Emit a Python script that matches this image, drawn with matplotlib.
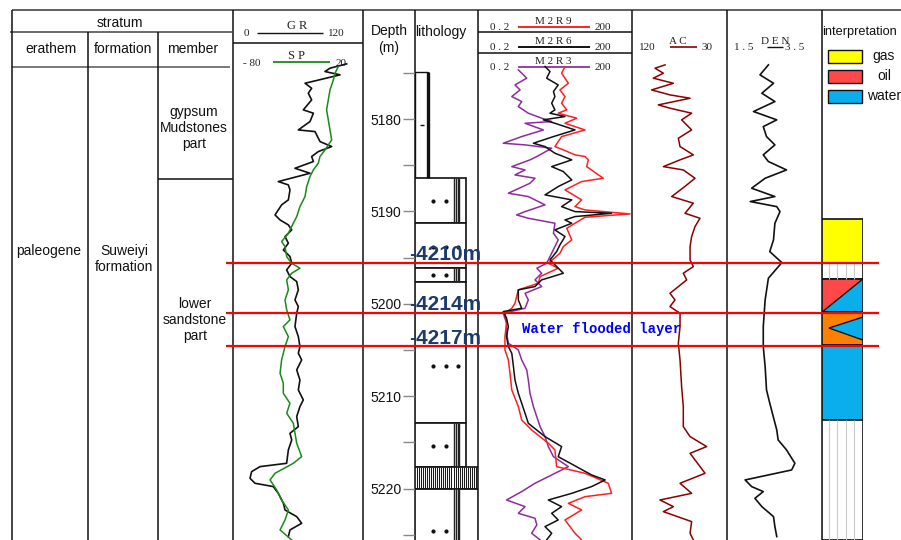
import matplotlib
matplotlib.use("Agg")
import matplotlib.pyplot as plt
from matplotlib.patches import Rectangle, Polygon

plt.rcParams['font.family'] = ['Liberation Sans', 'DejaVu Sans']
plt.rcParams['lines.solid_joinstyle'] = 'round'

# ---------------- data ----------------
DEPTH_TOP, DEPTH_BOT = 5174.37, 5225.56
depth_major = [5180, 5190, 5200, 5210, 5220]
depth_minor = [5175, 5185, 5195, 5205, 5215, 5225]

# (depth m, GR API)
gr = [(5174.03,104.9),(5174.50,89.5),(5174.86,84.9),(5175.22,98.8),(5176.13,66.5),(5176.67,72.6),
      (5177.21,69.5),(5177.93,72.6),(5179.01,64.9),(5179.37,74.2),(5180.27,71.1),(5181.18,60.3),
      (5181.36,75.7),(5182.44,80.3),(5182.98,91.1),(5183.52,78.8),(5184.06,72.6),(5184.60,74.2),
      (5185.33,57.2),(5185.87,71.1),(5186.77,41.8),(5187.13,51.1),(5187.67,52.6),(5188.75,51.1),
      (5189.29,44.9),(5190.38,38.8),(5190.92,43.4),(5191.46,51.1),(5192.00,54.2),(5192.72,48.0),
      (5193.44,51.1),(5194.17,46.5),(5194.89,52.6),(5195.61,54.2),(5196.33,49.5),(5197.05,52.6),
      (5197.59,58.8),(5198.49,60.3),(5199.58,57.2),(5200.30,60.3),(5201.02,58.8),(5202.46,57.2),
      (5203.55,60.3),(5204.63,61.8),(5205.35,60.3),(5206.07,63.4),(5207.15,58.8),(5208.24,61.8),
      (5209.32,60.3),(5210.40,64.9),(5211.12,61.8),(5212.20,58.8),(5213.29,60.3),(5214.01,52.6),
      (5214.73,54.2),(5215.81,51.1),(5217.26,49.5),(5217.62,24.9),(5218.16,17.2),(5218.88,15.7),
      (5219.42,20.3),(5219.78,37.2),(5220.51,41.8),(5221.59,46.5),(5222.31,48.0),(5223.03,58.8),
      (5223.75,63.4),(5224.47,52.6),(5225.19,51.1)]

# (depth m, SP mV)
sp = [(5174.32,1.0),(5175.04,-1.5),(5175.76,-2.8),(5176.85,-5.4),(5177.93,-6.7),(5179.01,-8.0),
      (5180.09,-6.7),(5181.18,-5.4),(5182.26,-4.1),(5183.34,-9.2),(5184.06,-13.1),(5184.78,-14.4),
      (5185.51,-18.2),(5186.23,-20.8),(5187.31,-23.3),(5188.39,-24.6),(5189.48,-28.5),(5190.56,-31.0),
      (5191.64,-34.9),(5192.36,-37.4),(5193.26,-42.6),(5193.80,-40.0),(5194.89,-38.7),(5195.61,-34.9),
      (5196.15,-28.5),(5196.69,-34.9),(5197.41,-38.7),(5198.49,-37.4),(5199.58,-40.0),(5200.66,-38.7),
      (5201.74,-36.2),(5202.46,-41.3),(5203.55,-37.4),(5204.63,-40.0),(5206.07,-42.6),(5207.52,-43.8),
      (5208.60,-41.3),(5209.68,-41.3),(5210.76,-36.2),(5211.84,-38.7),(5212.93,-33.6),(5214.01,-32.3),
      (5215.09,-31.0),(5216.54,-27.2),(5217.26,-33.6),(5218.34,-47.7),(5219.06,-51.5),(5220.14,-46.4),
      (5221.23,-42.6),(5222.31,-37.4),(5223.39,-40.0),(5224.47,-43.8),(5225.55,-34.9)]

# (depth m, ohm.m)
m2r9 = [(5174.32,9.9),(5175.04,8.5),(5176.13,11.5),(5176.85,7.9),(5177.57,9.9),(5178.29,8.5),
        (5179.01,10.7),(5179.37,7.3),(5179.91,16.7),(5180.46,9.9),(5181.18,24.3),(5181.90,8.5),
        (5182.98,6.3),(5183.34,9.2),(5183.88,15.5),(5184.06,24.3),(5184.42,28.2),(5185.15,26.2),
        (5186.41,55.0),(5186.77,20.9),(5187.67,9.9),(5188.75,20.9),(5189.48,15.5),(5189.84,24.3),
        (5190.27,183.0),(5190.63,24.3),(5191.82,10.7),(5193.08,13.4),(5193.80,9.2),(5194.53,7.9),
        (5195.61,4.69),(5196.15,7.3),(5197.05,3.24),(5197.77,3.0),(5198.49,1.22),(5199.94,1.05),
        (5200.48,0.91),(5201.02,0.67),(5202.10,0.72),(5203.55,0.67),(5204.99,0.67),(5206.07,0.78),
        (5207.52,0.84),(5209.32,0.91),(5211.12,1.22),(5212.57,1.42),(5213.65,2.22),(5215.09,4.69),
        (5215.81,6.3),(5217.62,6.8),(5218.34,24.3),(5219.42,69.0),(5220.51,80.0),(5220.87,24.3),
        (5221.59,11.5),(5222.31,20.9),(5223.39,9.9),(5224.83,15.5),(5225.55,20.9)]

m2r6 = [(5174.32,4.04),(5174.86,5.05),(5175.58,4.35),(5176.31,7.3),(5177.03,5.9),(5177.57,6.3),
        (5178.29,5.45),(5179.01,6.3),(5179.37,5.05),(5179.73,9.9),(5180.09,3.75),(5180.46,6.3),
        (5181.18,15.5),(5181.90,5.9),(5182.62,2.4),(5182.98,4.04),(5183.70,6.3),(5184.42,13.4),
        (5185.15,5.45),(5185.69,9.2),(5186.59,13.4),(5187.31,7.3),(5188.21,4.04),(5188.75,13.4),
        (5189.48,8.5),(5190.02,15.5),(5190.20,80.0),(5190.56,15.5),(5190.92,9.9),(5191.28,13.4),
        (5192.00,6.3),(5192.72,9.9),(5193.62,7.9),(5194.35,6.8),(5195.25,5.05),(5196.69,9.2),
        (5197.41,3.48),(5198.13,2.58),(5198.49,1.22),(5199.58,1.22),(5200.48,1.42),(5200.84,0.62),
        (5201.56,0.72),(5202.46,0.78),(5203.55,0.72),(5204.63,0.78),(5205.35,0.91),(5206.79,0.98),
        (5208.24,1.05),(5209.68,1.22),(5211.84,1.65),(5212.93,1.91),(5214.37,4.04),(5215.45,8.5),
        (5216.54,7.3),(5218.52,32.7),(5219.06,60.0),(5219.78,32.7),(5220.51,13.4),(5221.23,4.69),
        (5221.95,8.5),(5222.67,5.45),(5223.39,7.3),(5224.11,4.04),(5224.83,5.45),(5225.55,4.35)]

m2r3 = [(5174.68,1.22),(5175.58,1.78),(5176.31,1.05),(5176.85,1.32),(5177.57,0.91),(5178.11,1.42),
        (5178.65,1.22),(5179.37,1.91),(5179.91,3.48),(5180.27,5.45),(5180.46,1.65),(5181.18,3.75),
        (5181.90,1.42),(5182.62,0.62),(5182.80,1.65),(5183.16,5.45),(5184.06,2.8),(5184.42,2.06),
        (5185.15,0.91),(5185.51,1.65),(5186.05,1.05),(5186.41,2.58),(5186.95,2.06),(5188.03,0.78),
        (5188.39,1.91),(5189.29,4.04),(5190.02,1.65),(5190.38,1.13),(5190.74,1.91),(5191.28,6.3),
        (5192.36,5.9),(5193.08,7.3),(5193.80,6.3),(5194.89,5.05),(5195.61,4.35),(5196.15,2.8),
        (5196.69,3.48),(5197.41,2.58),(5198.13,3.48),(5198.86,1.65),(5199.58,1.91),(5200.48,1.65),
        (5201.02,0.62),(5202.10,0.72),(5203.19,0.72),(5204.27,0.78),(5204.99,1.22),(5206.07,1.42),
        (5207.15,1.78),(5208.24,1.91),(5209.68,2.06),(5211.12,2.4),(5213.29,3.24),(5214.37,4.04),
        (5215.45,4.69),(5216.54,5.9),(5217.62,11.5),(5218.52,5.45),(5219.42,2.58),(5220.32,1.42),
        (5221.23,0.72),(5221.95,1.65),(5222.67,1.22),(5223.21,2.58),(5223.93,2.8),(5224.83,2.22),
        (5225.55,3.24)]

# (depth m, AC us/ft)
ac = [(5174.14,88.7),(5174.50,98.2),(5175.04,90.3),(5175.58,99.8),(5176.13,80.8),(5176.85,101.4),
      (5177.39,84.0),(5177.75,65.0),(5178.47,95.1),(5178.83,84.0),(5179.37,63.5),(5180.09,73.0),
      (5181.18,63.5),(5182.08,76.1),(5182.98,74.5),(5183.88,61.9),(5184.42,74.5),(5185.15,90.3),
      (5185.51,71.4),(5186.41,60.3),(5187.31,70.0),(5188.39,82.4),(5189.11,61.9),(5190.20,69.8),
      (5190.74,55.6),(5191.64,60.3),(5192.72,63.5),(5193.80,65.0),(5195.25,65.0),(5195.97,61.9),
      (5196.69,71.4),(5197.41,68.2),(5198.86,84.0),(5199.58,79.3),(5200.30,84.0),(5201.02,74.5),
      (5202.46,74.5),(5204.27,76.1),(5206.07,74.5),(5208.96,73.0),(5211.12,71.4),(5213.29,71.4),
      (5214.37,65.0),(5215.45,49.3),(5216.18,65.0),(5218.34,50.8),(5219.42,74.5),(5220.51,63.5),
      (5221.23,93.5),(5221.95,80.8),(5222.49,90.3),(5223.57,63.5),(5224.83,65.0),(5225.55,61.9)]

# (depth m, DEN g/cm3)
den = [(5174.14,2.39),(5175.22,2.21),(5176.13,2.50),(5177.21,2.25),(5178.11,2.53),(5179.19,2.07),
       (5180.09,2.57),(5180.82,2.28),(5181.90,2.35),(5182.80,2.53),(5183.88,2.28),(5184.60,2.39),
       (5185.51,2.78),(5186.41,2.32),(5187.49,2.03),(5188.39,2.53),(5188.93,2.00),(5189.48,2.57),
       (5190.02,2.64),(5191.28,2.53),(5193.08,2.50),(5194.35,2.42),(5195.54,2.68),(5197.23,2.39),
       (5199.58,2.32),(5202.46,2.28),(5204.63,2.28),(5206.79,2.32),(5209.32,2.35),(5210.76,2.42),
       (5213.65,2.57),(5214.73,2.60),(5215.81,2.78),(5217.26,2.96),(5217.98,2.89),(5219.06,1.89),
       (5219.78,2.03),(5220.32,2.28),(5221.05,2.10),(5221.95,2.25),(5223.03,2.50),(5224.11,2.53),
       (5225.19,2.57)]

# lithology intervals (top, bottom, kind)
lithology = [(5174.9, 5186.4, 'mud'), (5186.4, 5191.3, 'sand_str'), (5191.3, 5196.1, 'sand'),
             (5196.1, 5197.6, 'sand_str'), (5197.6, 5212.9, 'sand'), (5212.9, 5217.7, 'sand_str'),
             (5217.7, 5220.0, 'coal'), (5220.0, 5226.0, 'sand_str_full')]
lith_dots = [(5188.9, 2), (5193.9, 3), (5196.9, 2), (5206.7, 3), (5215.4, 2), (5224.6, 2)]

# interpretation intervals (top, bottom, kind)
interpretation = [(5190.8, 5195.6, 'gas'), (5195.6, 5197.3, 'dry'), (5197.3, 5200.9, 'oil_water'),
                  (5200.9, 5204.5, 'flooded'), (5204.5, 5212.6, 'water'), (5212.6, 5225.6, 'dry')]
flood_tri = [(1.0, 5201.43), (0.17, 5202.62), (1.0, 5203.92)]

marker_depths = [5195.58, 5201.0, 5204.57]
marker_labels = ['-4210m', '-4214m', '-4217m']

legend_items = [('gas', '#FFFF00'), ('oil', '#FF4848'), ('water', '#0AAEEA')]
colors = {'gas': '#FFFF00', 'oil': '#FF4848', 'water': '#0AAEEA', 'flooded': '#FF8000'}

# ---------------- figure ----------------
W, H = 901, 540
fig = plt.figure(figsize=(W / 100, H / 100), dpi=100)
bg = fig.add_axes([0, 0, 1, 1])
bg.set_xlim(0, W)
bg.set_ylim(H, 0)
bg.axis('off')


def track(x0, x1, y0=67, y1=540, off=True):
    ax = fig.add_axes([x0 / W, 1 - y1 / H, (x1 - x0) / W, (y1 - y0) / H])
    ax.set_ylim(DEPTH_BOT, DEPTH_TOP)
    ax.patch.set_alpha(0)
    if off:
        ax.axis('off')
    return ax


def L(x0, y0, x1, y1, c='#111111', lw=1.1):
    bg.plot([x0, x1], [y0, y1], color=c, lw=lw, solid_capstyle='butt')


# frame
L(12, 10, 901, 10, c='#333333')
L(10, 32, 232, 32, c='#444444')
L(12, 67, 230, 67, c='#555555')
L(233, 43, 363, 43)
L(478, 32, 632, 32)
L(478, 53, 632, 53)
L(158, 179, 233, 179)
for x, y0 in [(12, 10), (88, 32), (158, 32), (233, 10), (363, 10), (415, 10), (478, 10),
              (632, 10), (727, 10), (822, 10)]:
    L(x, y0, x, 540)

# header texts
hs = dict(fontsize=10, ha='center', va='center', color='#111111')
bg.text(120, 23, 'stratum', **hs)
bg.text(51, 49, 'erathem', **hs)
bg.text(123, 49, 'formation', **hs)
bg.text(193, 49, 'member', **hs)
bg.text(389, 31, 'Depth', **hs)
bg.text(389, 48, '(m)', **hs)
bg.text(441, 32, 'lithology', **hs)
bg.text(822, 32, 'interpretation', fontsize=9.2, ha='left', va='center', color='#111111')
bg.text(49, 251, 'paleogene', **hs)
bg.text(124, 259, 'Suweiyi\nformation', linespacing=1.15, **hs)
bg.text(194, 128, 'gypsum\nMudstones\npart', linespacing=1.15, **hs)
bg.text(195, 320, 'lower\nsandstone\npart', linespacing=1.15, **hs)

sf = dict(family=['Liberation Serif', 'DejaVu Serif'], va='center', ha='center', color='#222222')
# GR / SP
bg.text(246, 34, '0', fontsize=8, **sf)
L(257, 33, 323, 33, c='#111111', lw=1.0)
bg.text(297, 26, 'G R', fontsize=9, **sf)
bg.text(336, 34, '120', fontsize=8, **sf)
bg.text(252, 63, '- 80', fontsize=8, **sf)
L(273, 62, 330, 62, c='#1a8a1a', lw=1.3)
bg.text(297, 56, 'S P', fontsize=9, **sf)
bg.text(341, 63, '20', fontsize=8, **sf)
# resistivities
for yl, name, col in [(27, 'M 2 R 9', '#FF2020'), (47, 'M 2 R 6', '#111111'), (67, 'M 2 R 3', '#9B3FA8')]:
    bg.text(500, yl + 1, '0 . 2', fontsize=8, **sf)
    L(518, yl, 590, yl, c=col, lw=1.4)
    bg.text(553, yl - 6, name, fontsize=8, **sf)
    bg.text(603, yl + 1, '200', fontsize=8, **sf)
# AC / DEN
bg.text(647, 48, '120', fontsize=8, **sf)
L(670, 47, 697, 47, c='#8B0000', lw=1.2)
bg.text(678, 41, 'A C', fontsize=8, **sf)
bg.text(707, 48, '30', fontsize=8, **sf)
bg.text(744, 48, '1 . 5', fontsize=8, **sf)
L(767, 47, 783, 47, c='#111111', lw=1.0)
bg.text(775, 41, 'D E N', fontsize=8, **sf)
bg.text(795, 48, '3 . 5', fontsize=8, **sf)

# legend boxes
for i, (name, col) in enumerate(legend_items):
    yc = 56 + i * 20
    bg.add_patch(Rectangle((828, yc - 6.5), 34, 13, facecolor=col, edgecolor='#111111', lw=1.0))
    bg.text(884, yc, name, fontsize=10, ha='center', va='center', color='#111111')


def unzip(data):
    return [p[1] for p in data], [p[0] for p in data]


# GR & SP
ax_gr = track(233, 363)
ax_gr.set_xlim(0, 120)
ax_sp = track(233, 363)
ax_sp.set_xlim(-80, 20)
v, d = unzip(sp)
ax_sp.plot(v, d, color='#1a8a1a', lw=1.1, clip_on=False)
v, d = unzip(gr)
ax_gr.plot(v, d, color='#111111', lw=1.2, clip_on=False)

# resistivity
ax_r = track(478, 632)
ax_r.set_xscale('log')
ax_r.set_xlim(0.2, 200)
for data, col in [(m2r3, '#8E2C9E'), (m2r9, '#FF2020'), (m2r6, '#111111')]:
    v, d = unzip(data)
    ax_r.plot(v, d, color=col, lw=1.1, clip_on=False)

# AC
ax_ac = track(632, 727)
ax_ac.set_xlim(120, 30)
v, d = unzip(ac)
ax_ac.plot(v, d, color='#8B0000', lw=1.1, clip_on=False)

# DEN
ax_den = track(727, 820)
ax_den.set_xlim(1.5, 3.5)
v, d = unzip(den)
ax_den.plot(v, d, color='#111111', lw=1.2, clip_on=False)

# depth column
ax_d = track(403, 415, off=False)
for s in ax_d.spines.values():
    s.set_visible(False)
ax_d.set_xticks([])
ax_d.set_yticks(depth_major)
ax_d.set_yticks(depth_minor, minor=True)
ax_d.set_yticklabels([str(t) for t in depth_major])
ax_d.tick_params(axis='y', which='both', direction='in', length=12, width=1.0, color='#888888',
                 labelsize=10, pad=1, labelcolor='#111111')

# lithology
ax_l = track(415, 478)
ax_l.set_xlim(0, 1)
BOX_R = 0.81
for top, bot, kind in lithology:
    if kind == 'mud':
        ax_l.add_patch(Rectangle((0, top), 0.206, bot - top, facecolor='white', edgecolor='#111111', lw=1.0))
        ax_l.vlines(0.206, top, bot, color='#111111', lw=2.4)
        ax_l.hlines(5180.7, 0.08, 0.14, color='#111111', lw=1.0)
    elif kind == 'coal':
        ax_l.add_patch(Rectangle((0, top), 1.0, bot - top, facecolor='white', edgecolor='#111111', lw=1.2))
        xs = [0.03 + i * 0.0323 for i in range(30)]
        ax_l.vlines(xs, top, bot, color='#1a1a1a', lw=0.75)
    else:
        right = 1.0 if kind == 'sand_str_full' else BOX_R
        ax_l.add_patch(Rectangle((0, top), right, bot - top, facecolor='white', edgecolor='#111111', lw=1.2))
        if kind.startswith('sand_str'):
            ax_l.vlines([0.625, 0.65, 0.675, 0.70], top, bot, color='#222222', lw=1.0)
for depth, n in lith_dots:
    xs = [0.29, 0.49, 0.68][:n]
    ax_l.scatter(xs, [depth] * n, s=4, color='#111111', zorder=5)

# interpretation
ax_i = track(822, 863)
ax_i.set_xlim(0, 1)
for top, bot, kind in interpretation:
    h = bot - top
    if kind in ('gas', 'water', 'flooded'):
        ax_i.add_patch(Rectangle((0, top), 1, h, facecolor=colors[kind], edgecolor='#111111', lw=1.2))
        if kind == 'flooded':
            ax_i.add_patch(Polygon(flood_tri, closed=True, facecolor=colors['water'], edgecolor='#111111', lw=1.0))
    elif kind == 'oil_water':
        ax_i.add_patch(Polygon([(0, top), (1, top), (0, bot)], facecolor=colors['oil'], edgecolor='none'))
        ax_i.add_patch(Polygon([(1, top), (1, bot), (0, bot)], facecolor=colors['water'], edgecolor='none'))
        ax_i.plot([0, 1], [bot, top], color='#111111', lw=1.0)
        ax_i.add_patch(Rectangle((0, top), 1, h, facecolor='none', edgecolor='#111111', lw=1.2))
    else:
        ax_i.add_patch(Rectangle((0, top), 1, h, facecolor='white', edgecolor='#111111', lw=1.2))
        ax_i.vlines([0.17, 0.37, 0.585, 0.78], top, bot, color='#c8c8c8', lw=0.8)

# marker lines and labels
ax_m = track(226, 879)
ax_m.set_xlim(0, 1)
for dpt in marker_depths:
    ax_m.axhline(dpt, color='#FF0000', lw=1.6)
for (yl, lab) in zip([255, 305, 339], marker_labels):
    ax_m.text(409, yl, lab, transform=bg.transData, fontsize=15, fontweight='bold',
              color='#1B3A6E', ha='left', va='center')
ax_m.text(522, 329, 'Water flooded layer', transform=bg.transData, fontsize=10, fontweight='bold',
          family=['Liberation Mono', 'DejaVu Sans Mono'], color='#0000FF', ha='left', va='center')

fig.savefig('out.png', dpi=100)
